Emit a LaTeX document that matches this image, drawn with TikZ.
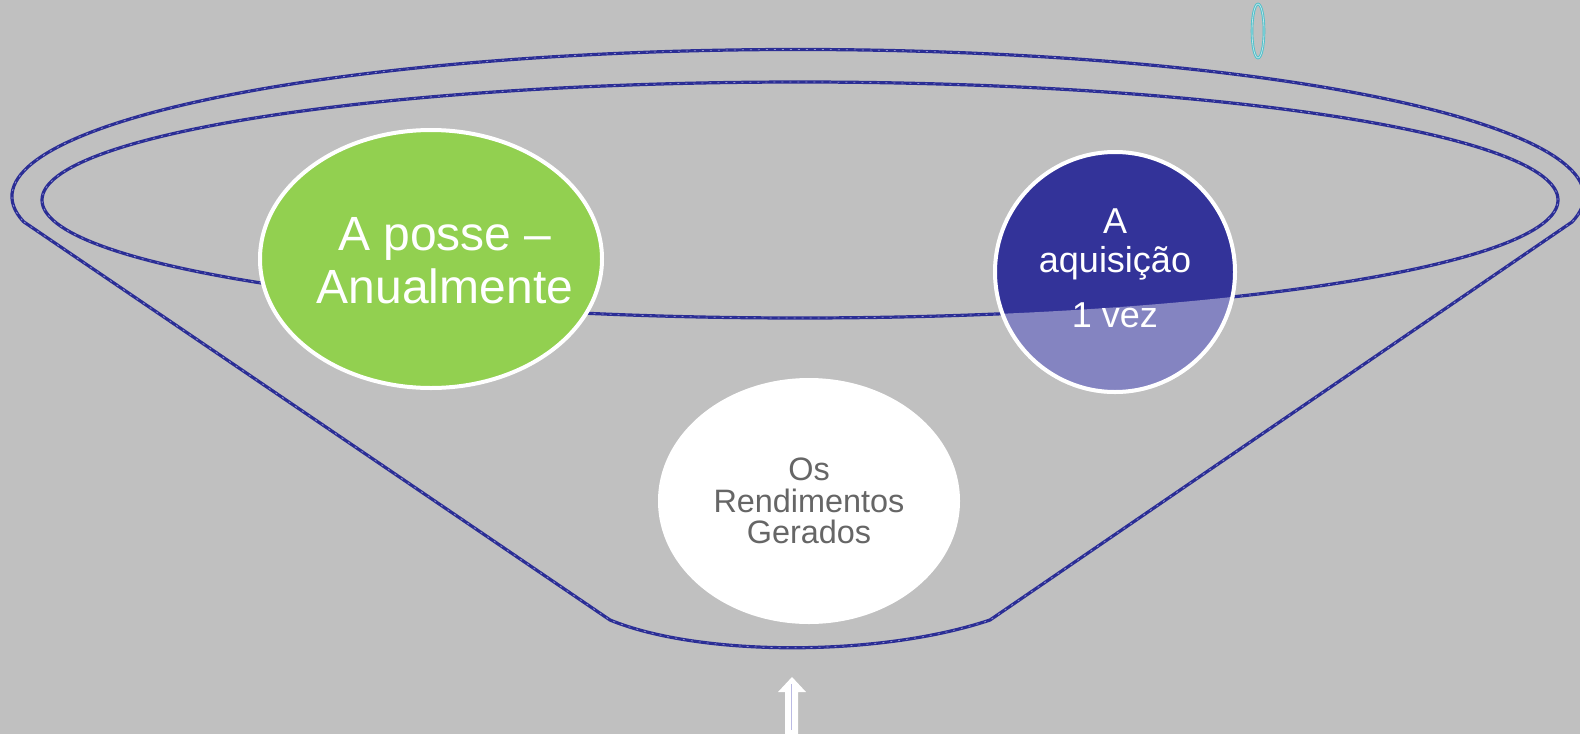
\documentclass[tikz,border=0pt]{standalone}
\usepackage{fontspec}
\setmainfont{Liberation Sans}
\usetikzlibrary{shapes.geometric}
\definecolor{bgGray}{HTML}{C0C0C0}
\definecolor{funnelBlue}{HTML}{2B2E95}
\definecolor{funnelLight}{HTML}{8E8ED2}
\definecolor{posseGreen}{HTML}{92D050}
\definecolor{aquisBlue}{HTML}{333399}
\definecolor{rendGray}{HTML}{666666}
\definecolor{ringCyan}{HTML}{4FBFC9}
\newcommand\colorBack{bgGray}
\newcommand\colorFunnel{funnelBlue}
\newcommand\colorFunnelLight{funnelLight}
\newcommand\colorPosse{posseGreen}
\newcommand\colorAquis{aquisBlue}
\newcommand\colorRend{rendGray}
\newcommand\funnelInner{(800,-200) ellipse[x radius=758, y radius=118]}
\tikzset{
	funnel line/.style={draw=\colorFunnel, line width=1.6pt,
		postaction={draw=\colorFunnelLight, line width=0.35pt, dash pattern=on 1pt off 3pt}},
	bubble/.style={inner sep=0pt, line width=2pt, draw=white},
	bubble text/.style={align=center, inner sep=0pt}
}

\begin{document}
\begin{tikzpicture}[x=0.5pt, y=0.5pt]
	\fill[color=\colorBack] (0,0) rectangle (1580,-734);
	\useasboundingbox (0,0) rectangle (1580,-734);
	
	% funnel
	\draw[funnel line] \funnelInner;
	\draw[funnel line]
	(24,-222) -- (610,-620) ..
	controls (700,-657) and (880,-657) .. (990,-620) --
	(1572,-222) arc[start angle=-10, end angle=190, x radius=786, y radius=147];
	
	% bubbles
	\node[bubble, ellipse, fill=\colorPosse, minimum width=171pt, minimum height=129pt] (posse) at (431,-259) {};
	\node[bubble text, text=white, font=\fontsize{24}{26.7}\selectfont, xshift=7pt, yshift=-1pt] (posseText) at (posse.center) {A posse –\\Anualmente};
	
	\node[bubble, circle, fill=\colorAquis, minimum size=120pt] (aquis) at (1115,-272) {};
	\node[bubble text, text=white, font=\fontsize{18}{19.5}\selectfont, yshift=2pt] (aquisText) at (aquis.center) {A\\aquisição\\[8pt]1 vez};
	\begin{scope}
		\clip (aquis.center) circle[radius=61pt];
		\fill[white, opacity=0.4, even odd rule] (0,0) rectangle (1580,-734) \funnelInner;
	\end{scope}
	
	\node[ellipse, fill=white, inner sep=0pt, minimum width=151pt, minimum height=123pt] (rend) at (809,-501) {};
	\node[bubble text, text=\colorRend, font=\fontsize{16.2}{15.6}\selectfont] (rendText) at (rend.center) {Os\\Rendimentos\\Gerados};
	
	% arrow and ring
	\fill[white] (792,-677) -- (806,-692) -- (798,-692) -- (798,-740) -- (785,-740) -- (785,-692) -- (778,-692) -- cycle;
	\draw[color=funnelLight!60, line width=0.8pt] (791.5,-684) -- (791.5,-730);
	\draw[color=ringCyan, line width=1.3pt] (1258,-31) ellipse[x radius=6, y radius=27];
	\draw[color=ringCyan!40, line width=0.4pt] (1258,-31) ellipse[x radius=6, y radius=27];
\end{tikzpicture}
\end{document}
